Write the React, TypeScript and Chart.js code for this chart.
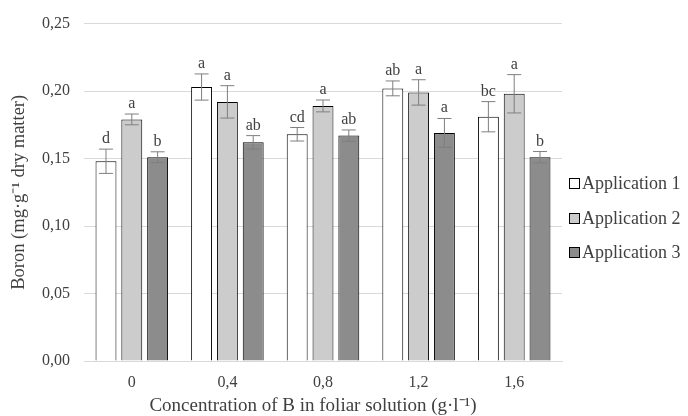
import React, { useEffect, useRef } from "react";
import { Chart, registerables } from "chart.js";

Chart.register(...registerables);

const categories = ["0", "0,4", "0,8", "1,2", "1,6"];
const seriesNames = ["Application 1", "Application 2", "Application 3"];
const app1 = [0.148, 0.203, 0.168, 0.202, 0.181];
const app2 = [0.179, 0.192, 0.189, 0.199, 0.198];
const app3 = [0.151, 0.162, 0.167, 0.169, 0.151];
const err1 = [0.009, 0.0097, 0.005, 0.0055, 0.0112];
const err2 = [0.004, 0.012, 0.0044, 0.0094, 0.0142];
const err3 = [0.004, 0.005, 0.0042, 0.0107, 0.0042];
const letters1 = ["d", "a", "cd", "ab", "bc"];
const letters2 = ["a", "a", "a", "a", "a"];
const letters3 = ["b", "ab", "ab", "a", "b"];
const yTicks = [0, 0.05, 0.1, 0.15, 0.2, 0.25];
const xTitle = "Concentration of B in foliar solution (g·l⁻¹)";
const yTitle = "Boron (mg·g⁻¹ dry matter)";

const colors = ["#ffffff", "#cccccc", "#8c8c8c"];
const SERIF = "'Liberation Serif', 'Times New Roman', serif";

export default function App() {
  const ref = useRef<HTMLCanvasElement | null>(null);

  useEffect(() => {
    document.body.style.margin = "0";
    const values = [app1, app2, app3];
    const errors = [err1, err2, err3];
    const letters = [letters1, letters2, letters3];

    const extras = {
      id: "extras",
      afterDatasetsDraw(chart: any) {
        const ctx = chart.ctx;
        const y = chart.scales.y;
        ctx.save();
        values.forEach((vals, di) => {
          const meta = chart.getDatasetMeta(di);
          meta.data.forEach((bar: any, i: number) => {
            const x = bar.x;
            const top = y.getPixelForValue(vals[i] + errors[di][i]);
            const bot = y.getPixelForValue(vals[i] - errors[di][i]);
            ctx.strokeStyle = "#7f7f7f";
            ctx.lineWidth = 1;
            ctx.beginPath();
            ctx.moveTo(x, top);
            ctx.lineTo(x, bot);
            ctx.moveTo(x - 7, top);
            ctx.lineTo(x + 7, top);
            ctx.moveTo(x - 7, bot);
            ctx.lineTo(x + 7, bot);
            ctx.stroke();
            ctx.fillStyle = "#404040";
            ctx.font = `16px ${SERIF}`;
            ctx.textAlign = "center";
            ctx.textBaseline = "alphabetic";
            ctx.fillText(letters[di][i], x, top - 6);
          });
        });
        // x axis title
        ctx.fillStyle = "#404040";
        ctx.font = `19px ${SERIF}`;
        ctx.textAlign = "center";
        ctx.textBaseline = "middle";
        ctx.fillText(xTitle, 313, 406);
        // legend
        const lx = 569;
        const ly = [183, 218, 252];
        seriesNames.forEach((name, k) => {
          ctx.fillStyle = colors[k];
          ctx.fillRect(lx, ly[k] - 5, 10, 10);
          ctx.strokeStyle = "#000000";
          ctx.lineWidth = 1;
          ctx.strokeRect(lx + 0.5, ly[k] - 5 + 0.5, 10, 10);
          ctx.fillStyle = "#404040";
          ctx.font = `18px ${SERIF}`;
          ctx.textAlign = "left";
          ctx.textBaseline = "middle";
          ctx.fillText(name, lx + 13, ly[k] + 1);
        });
        ctx.restore();
      },
    };

    const chart = new Chart(ref.current as HTMLCanvasElement, {
      type: "bar",
      data: {
        labels: categories,
        datasets: values.map((vals, di) => ({
          label: seriesNames[di],
          data: vals,
          backgroundColor: colors[di],
          borderColor: "#000000",
          borderWidth: 1,
          barPercentage: 0.81,
          categoryPercentage: 0.81,
        })),
      },
      options: {
        responsive: false,
        animation: false,
        layout: { padding: { top: 18, right: 126, left: 0, bottom: 0 } },
        plugins: {
          legend: { display: false },
          tooltip: { enabled: false },
        },
        scales: {
          x: {
            grid: { display: false, drawTicks: false },
            border: { display: true, color: "#d9d9d9" },
            ticks: { color: "#404040", font: { family: SERIF, size: 16 }, padding: 12 },
            title: { display: false },
            afterFit(scale: any) {
              scale.height = 55;
            },
          },
          y: {
            min: 0,
            max: 0.25,
            afterBuildTicks(scale: any) {
              scale.ticks = yTicks.map((v) => ({ value: v }));
            },
            grid: { color: "#d9d9d9", drawTicks: false },
            border: { display: false },
            ticks: {
              color: "#404040",
              font: { family: SERIF, size: 16 },
              padding: 14,
              callback: (v: any) => Number(v).toFixed(2).replace(".", ","),
            },
            title: {
              display: true,
              text: yTitle,
              color: "#404040",
              font: { family: SERIF, size: 18.5 },
              padding: { top: 8, bottom: 6 },
            },
            afterFit(scale: any) {
              scale.width = 84;
            },
          },
        },
      },
      plugins: [extras],
    });
    return () => chart.destroy();
  }, []);

  return <canvas ref={ref} width={688} height={416} style={{ display: "block" }} />;
}
